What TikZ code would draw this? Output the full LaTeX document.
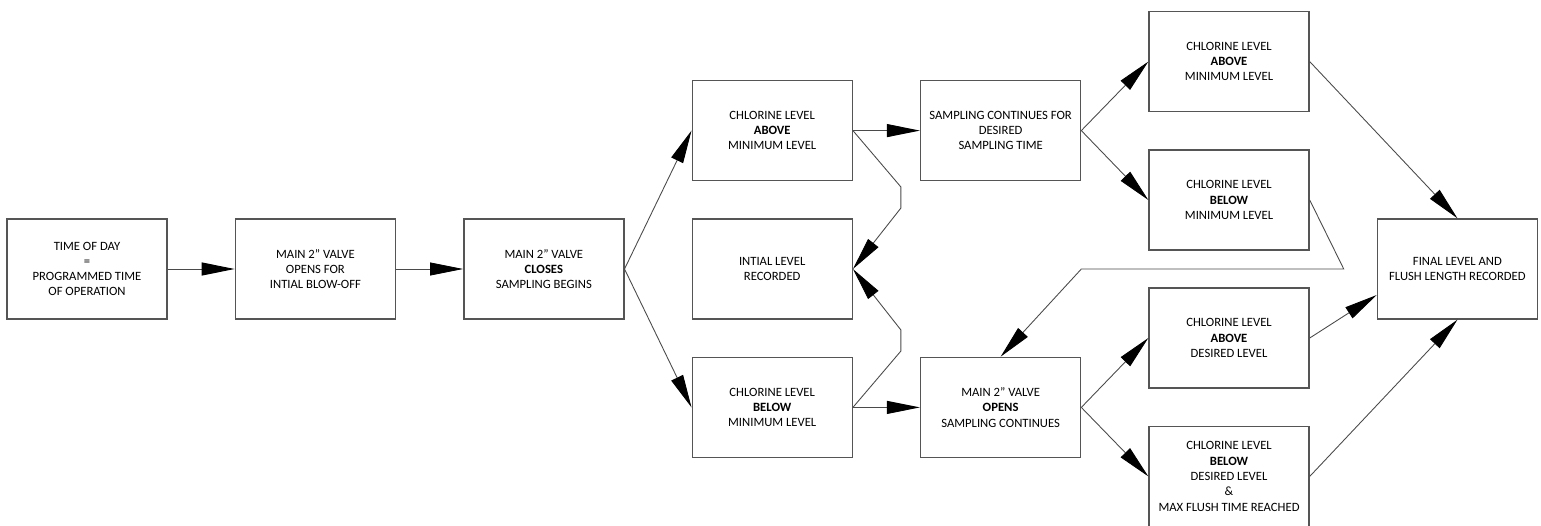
\documentclass[tikz,border=0pt]{standalone}
\usepackage{fontspec}
\setmainfont{Carlito}
\usepackage{xcolor}
\usetikzlibrary{arrows.meta,positioning,calc}
\definecolor{flowline}{HTML}{4A4A4A}
\definecolor{flowedge}{HTML}{555555}

\begin{document}
\begin{tikzpicture}[
  box/.style={draw=flowedge, line width=0.8pt, minimum width=32mm, minimum height=20mm, align=center, inner sep=1mm, font=\fontsize{7.2}{8.7}\selectfont},
  arrow/.style={-{Triangle[length=6.6mm, width=2.6mm, color=black]}, draw=flowline, line width=0.5pt}
]
\useasboundingbox (-1.74,-5.12) rectangle (29.08,5.38);
\node[box] (time) {TIME OF DAY\\=\\PROGRAMMED TIME\\OF OPERATION};
\node[box, right=13.4mm of time] (blowoff) {MAIN 2'' VALVE\\OPENS FOR\\INTIAL BLOW-OFF};
\node[box, right=13.4mm of blowoff] (closes) {MAIN 2'' VALVE\\\textbf{CLOSES}\\SAMPLING BEGINS};
\node[box, right=13.4mm of closes] (initial) {INTIAL LEVEL\\RECORDED};
\node[box, above=7.4mm of initial] (abovemin) {CHLORINE LEVEL\\\textbf{ABOVE}\\MINIMUM LEVEL};
\node[box, below=7.4mm of initial] (belowmin) {CHLORINE LEVEL\\\textbf{BELOW}\\MINIMUM LEVEL};
\node[box, right=13.4mm of abovemin] (sampling) {SAMPLING CONTINUES FOR\\DESIRED\\SAMPLING TIME};
\node[box, right=13.4mm of belowmin] (opens) {MAIN 2'' VALVE\\\textbf{OPENS}\\SAMPLING CONTINUES};
\node[box, right=13.4mm of sampling, yshift=13.8mm] (abovemin2) {CHLORINE LEVEL\\\textbf{ABOVE}\\MINIMUM LEVEL};
\node[box, below=7.4mm of abovemin2] (belowmin2) {CHLORINE LEVEL\\\textbf{BELOW}\\MINIMUM LEVEL};
\node[box, right=13.4mm of opens, yshift=-13.8mm] (belowdes) {CHLORINE LEVEL\\\textbf{BELOW}\\DESIRED LEVEL\\\&\\MAX FLUSH TIME REACHED};
\node[box, above=7.4mm of belowdes] (abovedes) {CHLORINE LEVEL\\\textbf{ABOVE}\\DESIRED LEVEL};
\coordinate (midright) at (belowmin2.east |- initial);
\node[box, right=13.4mm of midright] (final) {FINAL LEVEL AND\\FLUSH LENGTH RECORDED};

\draw[arrow] (time) -- (blowoff);
\draw[arrow] (blowoff) -- (closes);
\draw[arrow] (closes.east) -- (abovemin.west);
\draw[arrow] (closes.east) -- (belowmin.west);
\draw[arrow] (abovemin) -- (sampling);
\draw[arrow] (belowmin) -- (opens);
\draw[arrow] (abovemin.east) -- ($(initial.east)+(0.96,1.64)$) -- ($(initial.east)+(0.96,1.22)$) -- (initial.east);
\draw[arrow] (belowmin.east) -- ($(initial.east)+(0.96,-1.64)$) -- ($(initial.east)+(0.96,-1.22)$) -- (initial.east);
\draw[arrow] (sampling.east) -- (abovemin2.west);
\draw[arrow] (sampling.east) -- (belowmin2.west);
\draw[arrow] (opens.east) -- (abovedes.west);
\draw[arrow] (opens.east) -- (belowdes.west);
\draw[arrow] (belowmin2.east) -- ($(midright)+(0.68,0)$) -- (opens.east |- initial) -- (opens.north);
\draw[arrow] (abovemin2.east) -- (final.north);
\draw[arrow] (abovedes.east) -- ($(final.west)+(0,-0.52)$);
\draw[arrow] (belowdes.east) -- (final.south);
\end{tikzpicture}
\end{document}
